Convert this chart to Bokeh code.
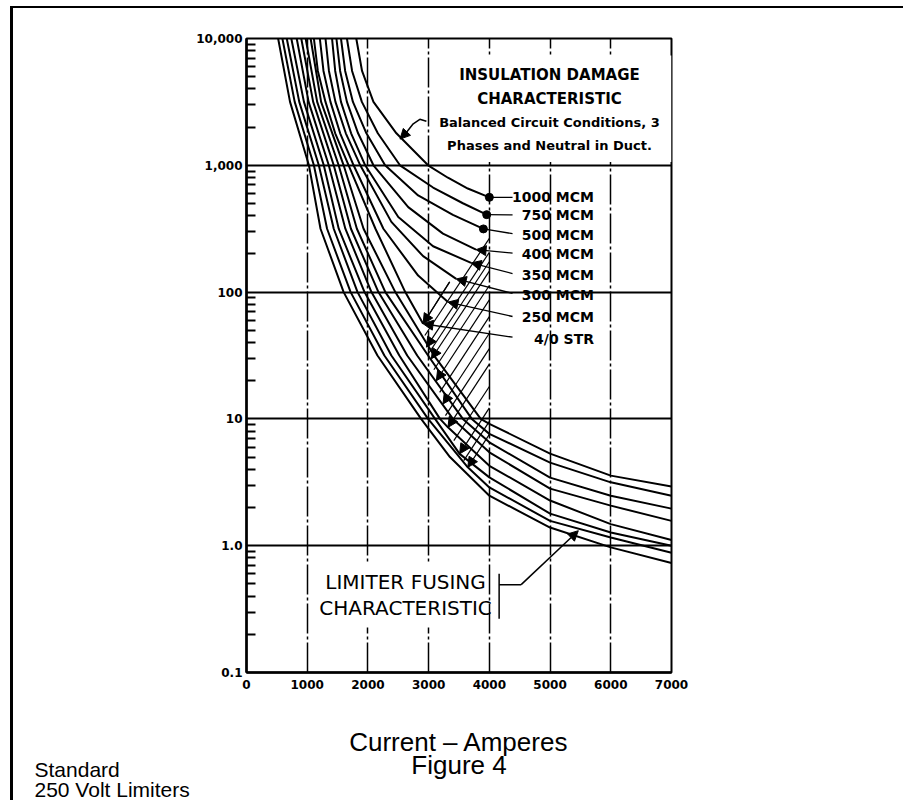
from bokeh.plotting import figure
from bokeh.models import (Range1d, FixedTicker, Label, BoxAnnotation, Arrow, NormalHead,
                          ColumnDataSource, Spacer, Div)
from bokeh.layouts import row, column
from bokeh.embed import file_html
from bokeh.resources import INLINE

# ---------------- data ----------------
x_ticks = [0, 1000, 2000, 3000, 4000, 5000, 6000, 7000]
x_grid = [1000, 2000, 3000, 4000, 5000, 6000]
y_ticks = [0.1, 1, 10, 100, 1000, 10000]
y_tick_labels = ["0.1", "1.0", "10", "100", "1,000", "10,000"]
y_minor = [m * d for d in [0.1, 1, 10, 100, 1000] for m in range(2, 10)]

cable_sizes = ["4/0 STR", "250 MCM", "300 MCM", "350 MCM", "400 MCM", "500 MCM", "750 MCM", "1000 MCM"]

# insulation damage characteristic (amperes, seconds), 4/0 ... 1000 MCM
damage_amps = [
    [1110, 1175, 1301, 1461, 1682, 2124, 2615, 2909],
    [1208, 1268, 1383, 1543, 1764, 2255, 2827, 3318],
    [1301, 1358, 1465, 1636, 1874, 2386, 2909, 3454],
    [1409, 1461, 1556, 1723, 1955, 2500, 3073, 3699],
    [1481, 1542, 1654, 1838, 2091, 2664, 3236, 3781],
    [1556, 1625, 1753, 1975, 2283, 2827, 3400, 3902],
    [1654, 1739, 1900, 2163, 2528, 3073, 3564, 3956],
    [1808, 1903, 2091, 2469, 2991, 3318, 3645, 4000],
]
damage_secs = [
    [10000, 5546, 3162, 1788, 1000, 316, 100, 56.3],
    [10000, 5546, 3162, 1788, 1000, 316, 135, 83.4],
    [10000, 5546, 3162, 1788, 1000, 358, 192, 127],
    [10000, 5546, 3162, 1788, 1000, 391, 230, 170],
    [10000, 5546, 3162, 1788, 1000, 468, 289, 216],
    [10000, 5546, 3162, 1788, 1000, 579, 406, 315],
    [10000, 5546, 3162, 1788, 1000, 668, 502, 408],
    [10000, 5546, 3162, 1788, 1000, 798, 656, 559],
]

# limiter fusing characteristic (amperes, seconds)
limiter_amps = [
    [521, 717, 1028, 1219, 1600, 2157, 2876, 3351, 4000, 5000, 6000, 7000],
    [591, 794, 1110, 1327, 1715, 2271, 2991, 3645, 4000, 5000, 6000, 7000],
    [663, 869, 1191, 1437, 1829, 2386, 3106, 3510, 4000, 5000, 6000, 7000],
    [738, 946, 1273, 1519, 1944, 2517, 3187, 3318, 4000, 5000, 6000, 7000],
    [827, 1023, 1355, 1628, 2058, 2647, 3400, 4000, 5000, 6000, 7000],
    [902, 1098, 1437, 1720, 2173, 2811, 3564, 4000, 5000, 6000, 7000],
    [974, 1164, 1518, 1818, 2287, 2991, 3711, 4000, 5000, 6000, 7000],
    [1056, 1229, 1600, 1928, 2451, 3089, 3858, 4000, 5000, 6000, 7000],
]
limiter_secs = [
    [10000, 3162, 1000, 316, 100, 31.6, 10, 5.0, 2.48, 1.39, 0.97, 0.73],
    [10000, 3162, 1000, 316, 100, 31.6, 10, 4.15, 2.88, 1.57, 1.16, 0.88],
    [10000, 3162, 1000, 316, 100, 31.6, 10, 5.30, 3.46, 1.79, 1.27, 1.0],
    [10000, 3162, 1000, 316, 100, 31.6, 10, 8.58, 4.27, 2.27, 1.48, 1.11],
    [10000, 3162, 1000, 316, 100, 31.6, 10, 5.45, 2.82, 2.07, 1.57],
    [10000, 3162, 1000, 316, 100, 31.6, 10, 6.54, 3.44, 2.48, 1.96],
    [10000, 3162, 1000, 316, 100, 31.6, 10, 7.62, 4.52, 3.16, 2.48],
    [10000, 3162, 1000, 316, 100, 31.6, 10, 9.14, 5.32, 3.57, 2.93],
]

# arrows on the limiter curves and the hatch lines running to 4000 A
arrow_amps = [2963, 3045, 3127, 3236, 3318, 3510, 3645]
arrow_secs = [36.8, 29.8, 20.0, 13.1, 8.58, 5.30, 4.15]
arrow_to_amps = [4000, 4000, 4000, 4000, 4000, 4000, 4000]
arrow_to_secs = [206, 146.5, 86.9, 47.4, 27.0, 12.2, 7.56]
hatch_amps0 = [2937, 3004, 3086, 3182, 3277, 3415, 3578, 2909]
hatch_secs0 = [45.5, 33.1, 24.4, 16.2, 10.6, 6.74, 4.69, 56.3]
hatch_amps1 = [4000, 4000, 4000, 4000, 4000, 4000, 4000, 3346]
hatch_secs1 = [265, 173.6, 112.7, 64.0, 35.8, 18.0, 9.55, 120.3]

# cable labels
label_amps = 5723
label_secs = [43, 63.1, 94.2, 137, 199, 284, 406, 559]
leader_amps = 4382
leader_secs = [44.1, 64.2, 97.6, 140, 203, 289, 406, 559]

# notes
ins_text = ["INSULATION DAMAGE", "CHARACTERISTIC", "Balanced Circuit Conditions, 3",
            "Phases and Neutral in Duct."]
ins_secs = [5152, 3363, 2164, 1439]
note_path_amps = [2963, 2855, 2746, 2636]
note_path_secs = [2222, 2307, 2125, 1822]
note_tip = (2528, 1609)
lim_text = ["LIMITER FUSING", "CHARACTERISTIC"]
lim_secs = [0.515, 0.32]

page_text = ["Current \u2013 Amperes", "Figure 4", "Standard", "250 Volt Limiters"]

# ---------------- main chart ----------------
p = figure(width=890, height=692, x_range=Range1d(0, 7000), y_range=Range1d(0.1, 10000),
           y_axis_type="log", output_backend="svg", toolbar_location=None,
           min_border_left=233, min_border_right=232, min_border_top=30, min_border_bottom=28)
p.frame_align = False
p.background_fill_color = "white"
p.border_fill_color = "white"
p.outline_line_color = "black"
p.outline_line_width = 2

tick_font = "DejaVu Sans"
p.xaxis.ticker = FixedTicker(ticks=x_ticks)
p.xaxis.major_label_overrides = {t: str(t) for t in x_ticks}
p.xaxis.major_tick_in = 0
p.xaxis.major_tick_out = 0
p.xaxis.minor_tick_in = 0
p.xaxis.minor_tick_out = 0
p.xaxis.major_label_standoff = 7
p.yaxis.ticker = FixedTicker(ticks=y_ticks, minor_ticks=y_minor)
p.yaxis.major_label_overrides = {t: s for t, s in zip(y_ticks, y_tick_labels)}
p.yaxis.major_tick_in = 0
p.yaxis.major_tick_out = 0
p.yaxis.minor_tick_in = 9
p.yaxis.minor_tick_out = 0
p.yaxis.minor_tick_line_width = 2
p.yaxis.minor_tick_line_color = "black"
p.yaxis.major_label_standoff = 4
for ax in (p.xaxis, p.yaxis):
    ax.axis_line_color = "black"
    ax.axis_line_width = 2.5
    ax.major_label_text_font = tick_font
    ax.major_label_text_font_style = "bold"
    ax.major_label_text_font_size = "12px"
    ax.major_label_text_color = "black"

p.xgrid.ticker = FixedTicker(ticks=x_grid)
p.xgrid.grid_line_color = "black"
p.xgrid.grid_line_width = 1.5
p.xgrid.grid_line_dash = "30 3 3 3"
p.ygrid.ticker = FixedTicker(ticks=y_ticks)
p.ygrid.grid_line_color = "black"
p.ygrid.grid_line_width = 2

# white boxes behind the notes
p.add_layout(BoxAnnotation(left=3122, right=7000, bottom=1060, top=7330,
                           fill_color="white", fill_alpha=1, line_alpha=0, level="underlay"))
p.add_layout(BoxAnnotation(left=1220, right=3950, bottom=0.226, top=0.74,
                           fill_color="white", fill_alpha=1, line_alpha=0, level="underlay"))

# curves
for xs, ys in zip(limiter_amps, limiter_secs):
    p.line(xs, ys, line_color="black", line_width=2)
for xs, ys in zip(damage_amps, damage_secs):
    p.line(xs, ys, line_color="black", line_width=2)

ends_x = [a[-1] for a in damage_amps]
ends_y = [s[-1] for s in damage_secs]
p.scatter(ends_x[5:], ends_y[5:], size=8, color="black")

head = dict(size=10, fill_color="black", line_color="black")
# hatch lines
p.segment(hatch_amps0, hatch_secs0, hatch_amps1, hatch_secs1, line_color="black", line_width=1.2)
src = ColumnDataSource(dict(x0=arrow_amps, y0=arrow_secs, x1=arrow_to_amps, y1=arrow_to_secs))
p.add_layout(Arrow(start=NormalHead(**head), end=None, x_start="x0", y_start="y0",
                   x_end="x1", y_end="y1", source=src, line_color="black", line_width=1.2))
p.add_layout(Arrow(start=NormalHead(**head), end=None, x_start=hatch_amps0[-1],
                   y_start=hatch_secs0[-1], x_end=hatch_amps1[-1], y_end=hatch_secs1[-1],
                   line_color="black", line_width=1.2))

# leaders to cable labels
lsrc = ColumnDataSource(dict(x0=[leader_amps] * 5, y0=leader_secs[:5], x1=ends_x[:5], y1=ends_y[:5]))
p.add_layout(Arrow(end=NormalHead(**head), x_start="x0", y_start="y0", x_end="x1", y_end="y1",
                   source=lsrc, line_color="black", line_width=1.3))
p.segment([leader_amps] * 3, leader_secs[5:], ends_x[5:], ends_y[5:], line_color="black", line_width=1.3)
for name, ly in zip(cable_sizes, label_secs):
    p.add_layout(Label(x=label_amps, y=ly, text=name, text_align="right", text_baseline="middle",
                       text_font="DejaVu Sans", text_font_style="bold",
                       text_font_size="14px", text_color="black"))

# insulation damage note
ins_size = ["15px", "15px", "13px", "13px"]
for t, yy, fs in zip(ins_text, ins_secs, ins_size):
    p.add_layout(Label(x=4990, y=yy, text=t, text_align="center", text_baseline="middle",
                       text_font="DejaVu Sans", text_font_style="bold",
                       text_font_size=fs, text_color="black"))
p.line(note_path_amps, note_path_secs, line_color="black", line_width=1.5)
p.add_layout(Arrow(end=NormalHead(**head), x_start=note_path_amps[-1], y_start=note_path_secs[-1],
                   x_end=note_tip[0], y_end=note_tip[1], line_color="black", line_width=1.5))

# limiter fusing note
for t, yy in zip(lim_text, lim_secs):
    p.add_layout(Label(x=2620, y=yy, text=t, text_align="center", text_baseline="middle",
                       text_font="DejaVu Sans", text_font_size="20px", text_color="black"))
p.line([4161, 4161], [0.602, 0.266], line_color="black", line_width=1.5)
p.line([4161, 4524], [0.493, 0.493], line_color="black", line_width=1.5)
p.add_layout(Arrow(end=NormalHead(**head), x_start=4524, y_start=0.493,
                   x_end=5465, y_end=1.313, line_color="black", line_width=1.5))

# ---------------- page furniture ----------------
bottom = figure(width=890, height=100, toolbar_location=None, output_backend="svg",
                min_border=0, x_axis_location=None, y_axis_location=None,
                x_range=Range1d(0, 890), y_range=Range1d(0, 100))
bottom.frame_align = False
bottom.outline_line_color = None
bottom.grid.visible = False
text_pos = [(445.5, 59, "center", "26px"), (445.5, 36, "center", "26px"),
            (21, 31, "left", "21px"), (21, 11, "left", "21px")]
for t, (tx, ty, al, fs) in zip(page_text, text_pos):
    bottom.add_layout(Label(x=tx, y=ty, text=t, text_align=al, text_baseline="middle",
                            text_font="Liberation Sans", text_font_size=fs, text_color="black"))

top_line = Div(text="", width=893, height=2, margin=0, styles={"background-color": "black"})
left_line = Div(text="", width=3, height=792, margin=0, styles={"background-color": "black"})

layout = column(
    Spacer(width=903, height=6, margin=0),
    row(Spacer(width=10, height=2, margin=0), top_line),
    row(Spacer(width=10, height=792, margin=0), left_line, column(p, bottom)),
)

open("out.html", "w").write(file_html(layout, INLINE))
